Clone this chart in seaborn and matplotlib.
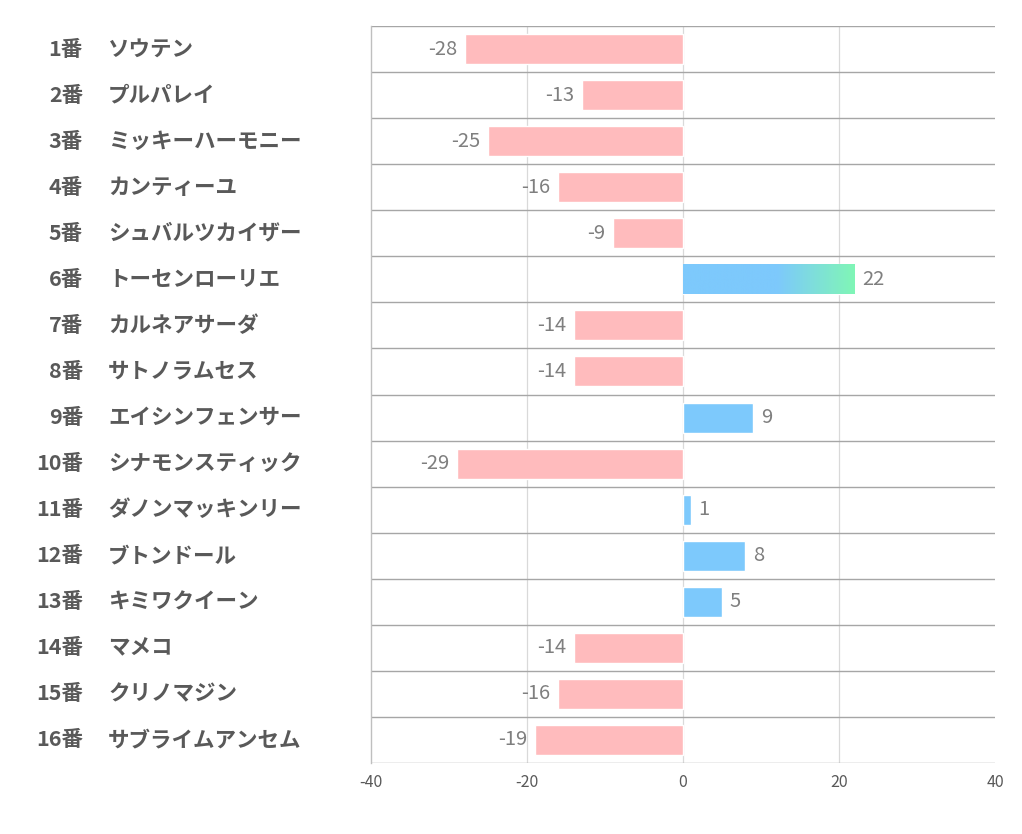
import numpy as np
import pandas as pd
import matplotlib
matplotlib.use('Agg')
import matplotlib.pyplot as plt
import seaborn as sns
from matplotlib.colors import LinearSegmentedColormap

# data
numbers = [f"{i}番" for i in range(1, 17)]
names = ['ソウテン', 'プルパレイ', 'ミッキーハーモニー', 'カンティーユ', 'シュバルツカイザー',
         'トーセンローリエ', 'カルネアサーダ', 'サトノラムセス', 'エイシンフェンサー',
         'シナモンスティック', 'ダノンマッキンリー', 'ブトンドール', 'キミワクイーン',
         'マメコ', 'クリノマジン', 'サブライムアンセム']
values = [-28, -13, -25, -16, -9, 22, -14, -14, 9, -29, 1, 8, 5, -14, -16, -19]
x_ticks = [-40, -20, 0, 20, 40]

sns.set_theme(style='white')
plt.rcParams['font.family'] = ['Noto Sans CJK JP', 'DejaVu Sans']

df = pd.DataFrame({'label': numbers, 'name': names, 'value': values})
df['sign'] = np.where(df['value'] < 0, 'neg', 'pos')

pink = '#FFBBBD'
blue = '#7DC9FC'
green = '#80F6B6'

fig = plt.figure(figsize=(10.22, 8.34), dpi=100)
ax = fig.add_axes([371 / 1022, 1 - 763 / 834, 624 / 1022, 737 / 834])

sns.barplot(data=df, x='value', y='label', hue='sign', palette={'neg': pink, 'pos': blue},
            orient='h', width=0.65, dodge=False, legend=False, ax=ax, saturation=1)

ax.set_xlim(-40, 40)
ax.set_ylim(len(values) - 0.5, -0.5)
ax.set_xticks(x_ticks)
ax.set_xticklabels([str(t) for t in x_ticks], color='#595959', fontsize=11.5)
ax.tick_params(axis='x', length=0, pad=8)
ax.set_yticks([])
ax.set_xlabel('')
ax.set_ylabel('')

# vertical grid
for t in [-20, 0, 20]:
    ax.axvline(t, color='#D9D9D9', lw=0.9, zorder=0)
# row separators
for k in range(len(values) + 1):
    ax.axhline(k - 0.5, color='#A6A6A6', lw=1.0, zorder=0)
for side in ['top', 'right', 'bottom']:
    ax.spines[side].set_visible(False)
ax.spines['left'].set_color('#BFBFBF')
ax.spines['left'].set_linewidth(1.0)

# gradient on the biggest positive bar
imax = int(np.argmax(values))
bars = [p for p in ax.patches if p.get_width() != 0]
cmap = LinearSegmentedColormap.from_list('bg', [(0, blue), (0.55, blue), (1, green)])
for p in bars:
    y0 = p.get_y()
    if abs(y0 + p.get_height() / 2 - imax) < 0.01:
        w = p.get_width()
        grad = np.linspace(0, 1, 256).reshape(1, -1)
        im = ax.imshow(grad, extent=[0, w, y0 + p.get_height(), y0], cmap=cmap,
                       aspect='auto', zorder=p.get_zorder() + 0.1)
        im.set_clip_path(p)
ax.set_xlim(-40, 40)
ax.set_ylim(len(values) - 0.5, -0.5)

# value labels
for i, v in enumerate(values):
    if v < 0:
        ax.text(v - 1.0, i, str(v), ha='right', va='center', color='#7F7F7F', fontsize=14.5)
    else:
        ax.text(v + 1.0, i, str(v), ha='left', va='center', color='#7F7F7F', fontsize=14.5)

# row labels on the left
trans = matplotlib.transforms.blended_transform_factory(fig.transFigure, ax.transData)
for i, (n, nm) in enumerate(zip(numbers, names)):
    ax.text(83 / 1022, i, n, transform=trans, ha='right', va='center',
            color='#595959', fontsize=15.5, fontweight='bold')
    ax.text(108 / 1022, i, nm, transform=trans, ha='left', va='center',
            color='#595959', fontsize=15.5, fontweight='bold')

fig.savefig('out.png', dpi=100)
